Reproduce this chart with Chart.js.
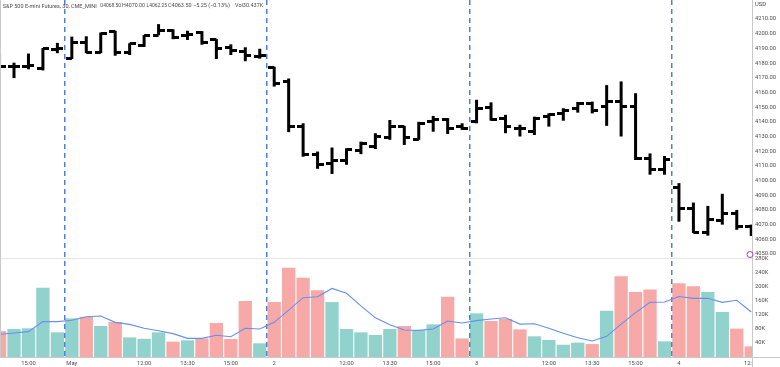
<!DOCTYPE html>
<html>
<head>
<meta charset="utf-8">
<script src="https://cdn.jsdelivr.net/npm/chart.js@4.4.1/dist/chart.umd.min.js"></script>
<style>
html,body{margin:0;padding:0;background:#fff;}
#wrap{width:780px;height:367px;position:relative;}
</style>
</head>
<body>
<div id="wrap"><canvas id="c"></canvas></div>
<script>
// ---- DATA ----
const categories = [
  'Apr 28 14:00','Apr 28 14:30','Apr 28 15:00','Apr 28 15:30','Apr 28 16:00',
  'May 1 09:30','May 1 10:00','May 1 10:30','May 1 11:00','May 1 11:30','May 1 12:00','May 1 12:30',
  'May 1 13:00','May 1 13:30','May 1 14:00','May 1 14:30','May 1 15:00','May 1 15:30','May 1 16:00',
  'May 2 09:30','May 2 10:00','May 2 10:30','May 2 11:00','May 2 11:30','May 2 12:00','May 2 12:30',
  'May 2 13:00','May 2 13:30','May 2 14:00','May 2 14:30','May 2 15:00','May 2 15:30','May 2 16:00',
  'May 3 09:30','May 3 10:00','May 3 10:30','May 3 11:00','May 3 11:30','May 3 12:00','May 3 12:30',
  'May 3 13:00','May 3 13:30','May 3 14:00','May 3 14:30','May 3 15:00','May 3 15:30','May 3 16:00',
  'May 4 09:30','May 4 10:00','May 4 10:30','May 4 11:00','May 4 11:30','May 4 12:00'
];
const openP = [
  4180.00,4177.75,4177.75,4176.50,4189.50,
  4183.25,4194.00,4187.50,4201.75,4187.25,4192.25,4199.00,4202.00,4198.50,4200.50,4195.75,4190.50,4188.00,4184.50,
  4177.00,4167.50,4136.75,4118.00,4111.75,4113.50,4120.25,4123.50,4129.00,4136.75,4128.25,4140.00,4141.75,4136.75,
  4140.00,4149.75,4142.50,4135.75,4133.25,4143.50,4145.75,4148.75,4152.75,4150.25,4153.75,4150.25,4115.25,4107.25,
  4095.50,4081.25,4064.50,4072.75,4077.75,4068.50
];
const highP = [
  4186.00,4180.25,4186.50,4190.25,4193.75,
  4198.00,4198.25,4200.75,4202.00,4193.50,4199.00,4206.50,4203.00,4202.00,4201.75,4196.25,4192.75,4190.75,4189.75,
  4177.50,4169.50,4139.00,4119.75,4122.50,4122.00,4126.50,4132.25,4141.25,4137.25,4140.00,4144.00,4142.50,4139.00,
  4155.00,4153.25,4144.75,4138.00,4143.50,4145.75,4149.25,4153.50,4153.75,4165.00,4167.50,4159.50,4118.50,4116.75,
  4098.25,4085.00,4082.75,4091.00,4080.00,4070.00
];
const lowP = [
  4175.25,4169.75,4175.75,4175.00,4186.75,
  4182.75,4186.75,4186.75,4185.00,4185.50,4191.00,4199.00,4196.25,4195.75,4192.50,4182.75,4185.50,4181.25,4183.00,
  4164.00,4133.00,4116.25,4108.00,4104.50,4110.75,4118.00,4121.50,4127.75,4124.25,4127.75,4133.25,4131.75,4134.50,
  4139.00,4140.75,4132.25,4130.00,4131.00,4136.75,4140.75,4146.25,4145.75,4137.25,4130.00,4114.00,4104.00,4104.00,
  4072.00,4064.25,4062.50,4070.00,4066.50,4062.25
];
const closeP = [
  4177.75,4178.00,4178.25,4189.75,4190.25,
  4194.00,4187.50,4200.25,4187.25,4193.00,4198.75,4202.00,4197.50,4199.25,4193.75,4190.25,4188.50,4185.25,4185.00,
  4166.25,4136.75,4117.50,4111.25,4114.00,4121.00,4125.50,4130.25,4136.75,4129.50,4139.00,4141.75,4135.50,4135.75,
  4149.00,4141.75,4136.75,4135.50,4142.50,4144.75,4148.00,4152.75,4148.00,4153.75,4150.25,4115.25,4107.25,4114.50,
  4081.25,4064.50,4073.25,4077.75,4068.75,4063.50
];
const volume = [
  74000,80000,82000,198000,70500,
  110500,115000,88600,100000,56000,52000,70500,43800,47600,53000,97000,51400,160000,39000,
  157000,255000,226600,190500,157000,80000,70500,62900,80000,88600,77000,93300,172000,53000,
  124800,102900,108600,79000,59000,48600,35000,41000,37000,132000,231000,186000,193000,44800,
  211000,202000,186000,128600,81000,30437
];
const volumeMA = [
  65000,68600,72400,101000,101000,
  104800,115000,117000,99000,93300,82000,75000,66700,53300,53300,62000,58000,82000,80000,
  99000,134000,169500,172000,196000,182000,146000,112000,92000,77000,76000,80000,103000,97000,
  104000,108600,112000,94000,95000,82000,67600,55000,45700,59000,94000,126700,156000,157000,
  173000,167600,167600,156000,162000,128600
];
const priceTicks = [4050,4060,4070,4080,4090,4100,4110,4120,4130,4140,4150,4160,4170,4180,4190,4200,4210];
const volumeTicks = [40000,80000,120000,160000,200000,240000,280000];
const tickTimes = ['12:00','13:30','15:00'];
const headerParts = ['S&P 500 E-mini Futures, 30, CME_MINI','O4068.50','H4070.00','L4062.25','C4063.50','\u22125.25 (\u22120.13%)','Vol30.437K'];

// ---- derived from categories ----
const idx = categories.map((_, i) => i);
const dayOf = s => s.split(' ').slice(0, 2).join(' ');
const timeOf = s => s.split(' ')[2];
const sessionBreaks = idx.filter(i => i > 0 && dayOf(categories[i]) !== dayOf(categories[i - 1])).map(i => i - 0.5);
const tickIdx = idx.filter(i => timeOf(categories[i]) === '09:30' || tickTimes.includes(timeOf(categories[i])));
function labelFor(v) {
  const c = categories[Math.round(v)];
  if (!c) return '';
  const [mon, day, t] = c.split(' ');
  if (t === '09:30') return day === '1' ? mon : day;
  return t;
}

// ---- styles / scale ranges ----
const FONT = 'Roboto, "Liberation Sans", sans-serif';
const TXT = '#4a4a4a';
const TEAL = 'rgba(38,166,154,0.5)';
const RED = 'rgba(239,83,80,0.5)';
const X_MIN = 0.031, X_MAX = 52.054;
const P_MIN = 3979.88, P_MAX = 4222.94;
const V_MIN = 0, V_MAX = 1020000;
const HEADER_X = [2.7, 100, 122, 146.5, 168, 193, 235];
const HEADER_W = [94, 21, 23, 20.5, 24, 40, 30];
const HEADER_SIZE = [6.2, 5.5, 5.5, 5.5, 5.5, 5.5, 5.5];

function tickCanvas(side) {
  const c = document.createElement('canvas');
  c.width = 12; c.height = 3;
  const g = c.getContext('2d');
  g.fillStyle = '#000';
  g.fillRect(side === 'left' ? 0 : 6, 0, 6, 3);
  return c;
}
const openTick = tickCanvas('left');
const closeTick = tickCanvas('right');

// the right axis carries both panes' labels (price and volume share the same chart area)
function rightAxisTicks() {
  const t = priceTicks.map(v => ({value: v, text: v.toFixed(2)}));
  volumeTicks.forEach(v => {
    const frac = (v - V_MIN) / (V_MAX - V_MIN);
    t.push({value: P_MIN + frac * (P_MAX - P_MIN), text: (v / 1000) + 'K'});
  });
  return t.sort((a, b) => a.value - b.value);
}

const decor = {
  id: 'decor',
  beforeDatasetsDraw(chart) {
    const {ctx, chartArea} = chart;
    ctx.save();
    ctx.strokeStyle = '#e4e6eb';
    ctx.lineWidth = 1;
    ctx.beginPath();
    ctx.moveTo(0, 258.5); ctx.lineTo(chartArea.right, 258.5);
    ctx.stroke();
    ctx.restore();
  },
  afterDraw(chart) {
    const {ctx, chartArea} = chart;
    const W = chart.width, H = chart.height;
    ctx.save();
    ctx.fillStyle = '#fff';
    ctx.fillRect(chartArea.right, chartArea.bottom + 1, W - chartArea.right, H - chartArea.bottom);
    ctx.strokeStyle = '#c9c9c9';
    ctx.lineWidth = 1;
    ctx.beginPath();
    ctx.moveTo(0.5, 0); ctx.lineTo(0.5, chartArea.bottom);
    ctx.moveTo(chartArea.right + 0.5, 0); ctx.lineTo(chartArea.right + 0.5, H);
    ctx.moveTo(0, chartArea.bottom + 0.5); ctx.lineTo(W, chartArea.bottom + 0.5);
    ctx.stroke();
    ctx.strokeStyle = '#a23cc4';
    ctx.beginPath(); ctx.arc(chartArea.right - 2, 254.5, 3, 0, Math.PI * 2); ctx.stroke();
    ctx.fillStyle = TXT;
    ctx.textBaseline = 'middle';
    ctx.textAlign = 'left';
    headerParts.forEach((s, k) => {
      ctx.font = HEADER_SIZE[k] + 'px ' + FONT;
      ctx.fillText(s, HEADER_X[k], 6, HEADER_W[k]);
    });
    ctx.font = '5.8px ' + FONT;
    ctx.fillText('USD', chartArea.right + 3, 5);
    ctx.restore();
  }
};

const zeroPad = s => { s.paddingTop = 0; s.paddingBottom = 0; s.paddingLeft = 0; s.paddingRight = 0; };

new Chart(document.getElementById('c'), {
  type: 'bar',
  data: {
    datasets: [
      { type: 'line', label: 'Open', data: idx.map(i => ({x: i, y: openP[i]})), yAxisID: 'yp', xAxisID: 'x',
        showLine: false, pointStyle: openTick, pointRadius: 6, pointHoverRadius: 6, order: 0 },
      { type: 'line', label: 'Close', data: idx.map(i => ({x: i, y: closeP[i]})), yAxisID: 'yp', xAxisID: 'x',
        showLine: false, pointStyle: closeTick, pointRadius: 6, pointHoverRadius: 6, order: 0 },
      { type: 'bar', label: 'Range', data: idx.map(i => ({x: i, y: [lowP[i], highP[i]]})), yAxisID: 'yp', xAxisID: 'x',
        backgroundColor: '#000', barThickness: 3, grouped: false, inflateAmount: 0, order: 1 },
      { type: 'line', label: 'Volume MA', data: idx.map(i => ({x: i, y: volumeMA[i]})), yAxisID: 'yv', xAxisID: 'x',
        borderColor: '#6590f2', borderWidth: 1.1, pointRadius: 0, tension: 0, order: 2 },
      { type: 'bar', label: 'Volume', data: idx.map(i => ({x: i, y: volume[i]})), yAxisID: 'yv', xAxisID: 'x',
        backgroundColor: idx.map(i => closeP[i] >= openP[i] ? TEAL : RED),
        barThickness: 13.3, grouped: false, inflateAmount: 0, order: 3 }
    ]
  },
  options: {
    responsive: true,
    maintainAspectRatio: false,
    devicePixelRatio: 1,
    animation: false,
    events: [],
    layout: { padding: 0, autoPadding: false },
    plugins: { legend: { display: false }, tooltip: { enabled: false }, title: { display: false } },
    scales: {
      xd: {
        type: 'linear', position: 'bottom', weight: 0, min: X_MIN, max: X_MAX, bounds: 'data', offset: false, z: 1,
        grid: { display: true, drawTicks: false, color: '#4d80e2', lineWidth: 1.5, offset: false },
        border: { display: false, dash: [5, 4] },
        ticks: { display: false },
        afterBuildTicks: s => { s.ticks = sessionBreaks.map(v => ({value: v})); },
        afterFit: s => { s.height = 0; zeroPad(s); }
      },
      x: {
        type: 'linear', position: 'bottom', weight: 1, min: X_MIN, max: X_MAX, bounds: 'data', offset: false,
        grid: { display: false, drawTicks: false, offset: false },
        border: { display: false },
        ticks: { autoSkip: false, maxRotation: 0, minRotation: 0, padding: 3, color: TXT,
                 font: { family: FONT, size: 5.8 }, callback: v => labelFor(v) },
        afterBuildTicks: s => { s.ticks = tickIdx.map(v => ({value: v})); },
        afterFit: s => { s.height = 10; zeroPad(s); }
      },
      yv: {
        type: 'linear', display: false, position: 'right', min: V_MIN, max: V_MAX, bounds: 'data', beginAtZero: false
      },
      yp: {
        type: 'linear', position: 'right', weight: 1, min: P_MIN, max: P_MAX, bounds: 'data', beginAtZero: false,
        grid: { display: false, drawTicks: false },
        border: { display: false },
        ticks: { autoSkip: false, padding: 3, color: TXT, font: { family: FONT, size: 5.8 },
                 callback: (v, i, ticks) => ticks[i].text },
        afterBuildTicks: s => { s.ticks = rightAxisTicks(); },
        afterFit: s => { s.width = 28; zeroPad(s); }
      }
    }
  },
  plugins: [decor]
});
</script>
</body>
</html>
